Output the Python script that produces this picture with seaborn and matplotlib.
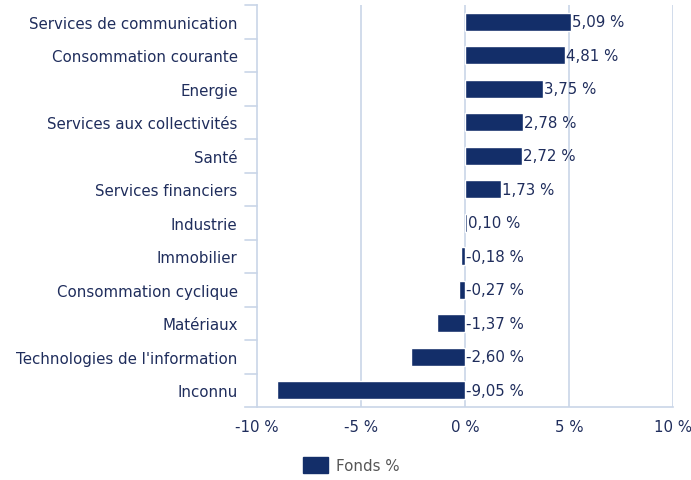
import matplotlib
matplotlib.use("Agg")
import matplotlib.pyplot as plt
import seaborn as sns
import pandas as pd
from matplotlib.patches import Patch

categories = ["Services de communication", "Consommation courante", "Energie",
              "Services aux collectivités", "Santé", "Services financiers",
              "Industrie", "Immobilier", "Consommation cyclique", "Matériaux",
              "Technologies de l'information", "Inconnu"]
values = [5.09, 4.81, 3.75, 2.78, 2.72, 1.73, 0.10, -0.18, -0.27, -1.37, -2.60, -9.05]
xticks = [-10, -5, 0, 5, 10]
series_name = "Fonds %"

df = pd.DataFrame({"cat": categories, "val": values})

sns.set_theme(style="white")
plt.rcParams['font.family'] = ['DejaVu Sans']

BAR = "#132e69"
GRID = "#c9d5e8"
TXT = "#1f2d5c"
FS = 10.8

fig = plt.figure(figsize=(6.91, 4.81), dpi=100)
ax = fig.add_axes([257/691, 1-408/481, (673-257)/691, (408-6)/481])

sns.barplot(data=df, x="val", y="cat", orient="h", color=BAR, width=0.55,
            saturation=1, ax=ax)
ax.set_xlim(-10, 10)
ax.set_ylim(11.5, -0.5)
ax.set_xlabel("")
ax.set_ylabel("")

for s in ["top", "right"]:
    ax.spines[s].set_visible(False)
ax.spines["left"].set_color(GRID)
ax.spines["bottom"].set_color(GRID)
ax.spines["left"].set_linewidth(1.2)
ax.spines["bottom"].set_linewidth(1.2)
ax.spines["bottom"].set_bounds(-10.6, 10)

for x in xticks[1:]:
    ax.axvline(x, color=GRID, lw=1.2, zorder=0)

ax.set_xticks(xticks)
ax.set_xticklabels([f"{t} %" for t in xticks], color=TXT, fontsize=FS)
ax.tick_params(axis="x", length=0, pad=9)

ax.set_yticks(range(len(categories)))
ax.set_yticklabels(categories, color=TXT, fontsize=FS)
ax.tick_params(axis="y", length=0, pad=14)
for b in [i - 0.5 for i in range(len(categories))]:
    ax.plot([-10.6, -10], [b, b], color=GRID, lw=1.2, clip_on=False)

for i, v in enumerate(values):
    lab = f"{v:.2f}".replace(".", ",") + " %"
    ax.text(max(v, 0) + 0.06, i, lab, va="center", ha="left", color=TXT, fontsize=FS)

fig.legend(handles=[Patch(color=BAR)], labels=[series_name], loc="center",
           bbox_to_anchor=(351/691, 1-466/481), frameon=False, fontsize=FS,
           handlelength=1.7, handleheight=1.2, handletextpad=0.5,
           labelcolor="#555555")

fig.savefig("out.png", dpi=100)
